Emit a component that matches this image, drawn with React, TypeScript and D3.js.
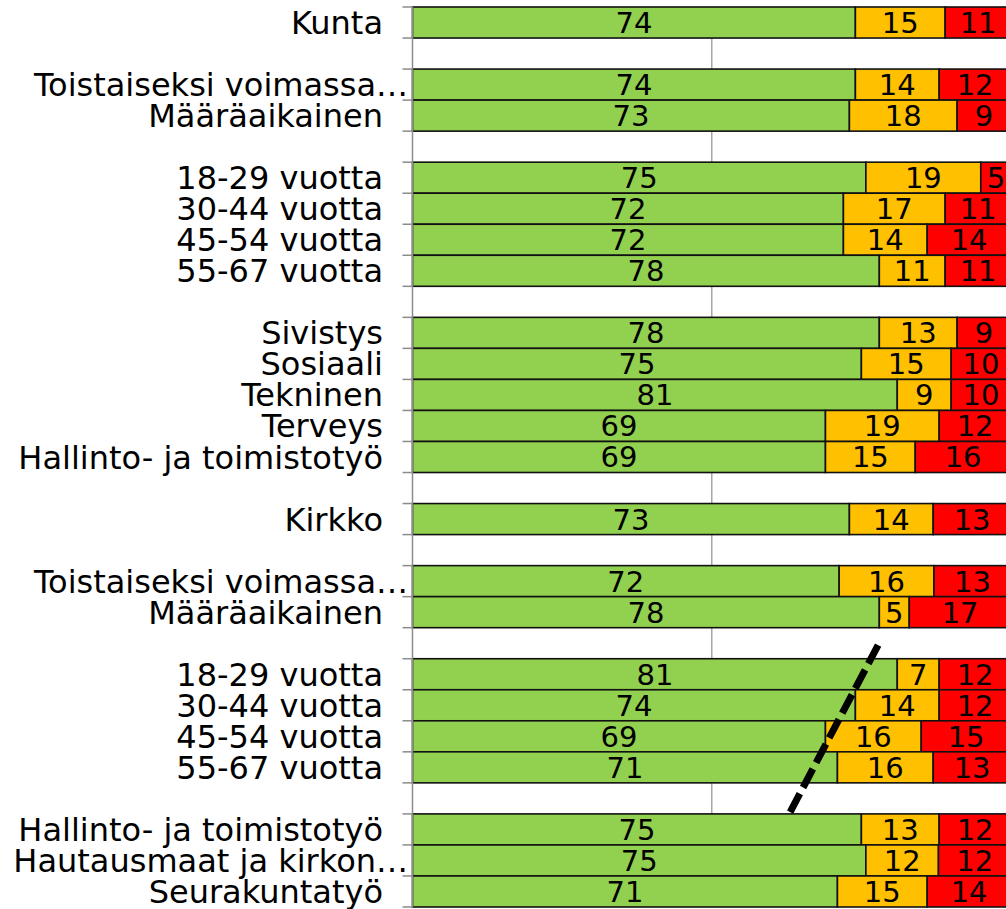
import React from "react";
import * as d3 from "d3";

const categories = [
  "Kunta", "", "Toistaiseksi voimassa…", "Määräaikainen", "",
  "18-29 vuotta", "30-44 vuotta", "45-54 vuotta", "55-67 vuotta", "",
  "Sivistys", "Sosiaali", "Tekninen", "Terveys", "Hallinto- ja toimistotyö", "",
  "Kirkko", "", "Toistaiseksi voimassa…", "Määräaikainen", "",
  "18-29 vuotta", "30-44 vuotta", "45-54 vuotta", "55-67 vuotta", "",
  "Hallinto- ja toimistotyö", "Hautausmaat ja kirkon…", "Seurakuntatyö",
];
const green = [74, null, 74, 73, null, 75, 72, 72, 78, null, 78, 75, 81, 69, 69, null, 73, null, 72, 78, null, 81, 74, 69, 71, null, 75, 75, 71];
const orange = [15, null, 14, 18, null, 19, 17, 14, 11, null, 13, 15, 9, 19, 15, null, 14, null, 16, 5, null, 7, 14, 16, 16, null, 13, 12, 15];
const red = [11, null, 12, 9, null, 5, 11, 14, 11, null, 9, 10, 10, 12, 16, null, 13, null, 13, 17, null, 12, 12, 15, 13, null, 12, 12, 14];
const seriesColors = ["#92D050", "#FFC000", "#FF0000"];
const gridValues = [50];
// annotation: dashed line in data units (percent, row position)
const annotation = { x1: 77.8, r1: 20.56, x2: 63.1, r2: 25.94 };

export default function App() {
  const W = 1006, H = 909;
  const top = 7, bottom = 907;
  const n = categories.length;
  const x = d3.scaleLinear().domain([0, 100]).range([412.5, 1011]);
  const y = d3.scaleBand<number>().domain(d3.range(n)).range([top, bottom]).padding(0);
  const yPos = d3.scaleLinear().domain([0, n]).range([top, bottom]);
  const bw = y.bandwidth();
  const series = [green, orange, red];

  const rows = d3.range(n).map((i) => {
    const vals = series.map((s) => s[i]);
    if (vals[0] == null) return null;
    const total = d3.sum(vals as number[]);
    let acc = 0;
    return vals.map((v, k) => {
      const start = acc;
      acc += ((v as number) / total) * 100;
      return { k, v: v as number, start, end: acc };
    });
  });

  const labelFont = "'DejaVu Sans', Verdana, sans-serif";

  return (
    <svg width={W} height={H} style={{ position: "absolute", left: 0, top: 0, background: "#fff" }}>
      {gridValues.map((g) => (
        <line key={g} x1={x(g)} x2={x(g)} y1={top} y2={bottom} stroke="#a6a6a6" strokeWidth={1.5} />
      ))}
      {rows.map((segs, i) =>
        segs
          ? segs.map((s) => (
              <rect
                key={`${i}-${s.k}`}
                x={x(s.start)}
                y={y(i)!}
                width={x(s.end) - x(s.start)}
                height={bw}
                fill={seriesColors[s.k]}
                stroke="#111"
                strokeWidth={1.6}
              />
            ))
          : null
      )}
      {rows.map((segs, i) =>
        segs
          ? segs.map((s) => (
              <text
                key={`t${i}-${s.k}`}
                x={(x(s.start) + x(s.end)) / 2}
                y={y(i)! + bw / 2}
                dy="0.36em"
                textAnchor="middle"
                fontFamily={labelFont}
                fontSize={29}
                fill="#000"
              >
                {s.v}
              </text>
            ))
          : null
      )}
      {/* axis */}
      <line x1={x(0)} x2={x(0)} y1={top} y2={bottom} stroke="#8c8c8c" strokeWidth={1.5} />
      {d3.range(n + 1).map((i) => (
        <line key={`tk${i}`} x1={x(0) - 10} x2={x(0)} y1={yPos(i)} y2={yPos(i)} stroke="#8c8c8c" strokeWidth={1.5} />
      ))}
      {categories.map((c, i) =>
        c ? (
          <text
            key={`c${i}`}
            x={c.endsWith("…") ? 408 : 383}
            y={y(i)! + bw / 2}
            dy="0.36em"
            textAnchor="end"
            fontFamily={labelFont}
            fontSize={32}
            fill="#000"
          >
            {c}
          </text>
        ) : null
      )}
      <line
        x1={x(annotation.x1)}
        y1={yPos(annotation.r1)}
        x2={x(annotation.x2)}
        y2={yPos(annotation.r2)}
        stroke="#000"
        strokeWidth={7}
        strokeDasharray="21 7"
      />
    </svg>
  );
}
